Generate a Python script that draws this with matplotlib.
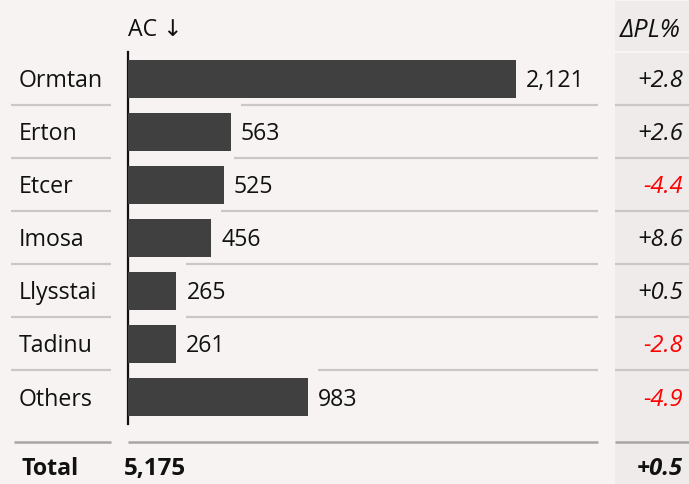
import matplotlib
matplotlib.use("Agg")
import matplotlib.pyplot as plt
from matplotlib.patches import Rectangle

categories = ["Ormtan", "Erton", "Etcer", "Imosa", "Llysstai", "Tadinu", "Others"]
ac_values = [2121, 563, 525, 456, 265, 261, 983]
delta_pl = [2.8, 2.6, -4.4, 8.6, 0.5, -2.8, -4.9]
total_label = "Total"
total_value = 5175
total_delta = 0.5

plt.rcParams['font.family'] = ['Open Sans', 'DejaVu Sans']

W, H = 689, 485
BG = "#f6f3f2"
COL_BG = "#eeebea"
BAR = "#404040"
SEP = "#cac7c6"
TOT = "#a8a6a5"
FS = 16.7

fig = plt.figure(figsize=(W / 100, H / 100), dpi=100, facecolor=BG)

# right column background
fig.patches.append(Rectangle((615 / W, 0), 1 - 615 / W, (H - 2) / H,
                             transform=fig.transFigure, facecolor=COL_BG,
                             edgecolor="none", zorder=-5))

ax_left, ax_right = 128, 598
ax_top, ax_bot = 53, 424.5
ax = fig.add_axes([ax_left / W, 1 - ax_bot / H, (ax_right - ax_left) / W, (ax_bot - ax_top) / H])
ax.set_zorder(2)
ax.set_facecolor("none")
px_per_unit = 388 / 2121
xmax = (ax_right - ax_left) / px_per_unit
ax.set_xlim(0, xmax)
n = len(categories)
ax.set_ylim(n - 0.5, -0.5)
for s in ["top", "right", "bottom"]:
    ax.spines[s].set_visible(False)
ax.spines["left"].set_linewidth(1.6)
ax.spines["left"].set_color("#111111")
ax.set_xticks([])
ax.set_yticks([])

ypos = list(range(n))
ax.barh(ypos, ac_values, height=0.715, color=BAR, zorder=3)

def fx(px):
    return (px - ax_left) / (ax_right - ax_left)

ytr = ax.get_yaxis_transform()
gap = 10 / px_per_unit
dy = 0.03
for i, (cat, v, d) in enumerate(zip(categories, ac_values, delta_pl)):
    ax.text(fx(19), i + dy, cat, transform=ytr, ha="left", va="center", fontsize=FS,
            color="#111111", clip_on=False)
    ax.text(v + gap, i + dy, f"{v:,}", ha="left", va="center", fontsize=FS,
            color="#111111", clip_on=False)
    ax.text(fx(683), i + dy, f"{d:+.1f}", transform=ytr, ha="right", va="center",
            fontsize=FS + 0.4, style="italic", color="#ff0000" if d < 0 else "#111111",
            clip_on=False)
    if i < n - 1:
        yl = i + 0.5
        ax.plot([fx(11), fx(111)], [yl, yl], transform=ytr, color=SEP, lw=1.6,
                clip_on=False, solid_capstyle="butt")
        nxt = ac_values[i + 1]
        ax.plot([nxt + gap, xmax], [yl, yl], color=SEP, lw=1.6, clip_on=False,
                solid_capstyle="butt")
        ax.plot([fx(615), fx(689)], [yl, yl], transform=ytr, color=SEP, lw=1.6,
                clip_on=False, solid_capstyle="butt")

# light line under the header in the right column
ax.plot([fx(615), fx(689)], [-0.5, -0.5], transform=ytr, color="#f8f6f5", lw=1.5,
        clip_on=False, solid_capstyle="butt")

row_px = 53.1
y_tot_line = n - 1 + (443 - 397.6) / row_px
for a, b in [(fx(14), fx(111)), (0, 1), (fx(615), fx(689))]:
    ax.plot([a, b], [y_tot_line, y_tot_line], transform=ytr, color=TOT, lw=1.8,
            clip_on=False, solid_capstyle="butt")

y_tot = n - 1 + (467 - 397.6) / row_px + dy
ax.text(fx(21), y_tot, total_label, transform=ytr, ha="left", va="center",
        fontsize=FS, fontweight="bold", color="#111111", clip_on=False)
ax.text(fx(124), y_tot, f"{total_value:,}", transform=ytr, ha="left", va="center",
        fontsize=FS + 0.8, fontweight="bold", color="#111111", clip_on=False)
ax.text(fx(683), y_tot, f"{total_delta:+.1f}", transform=ytr, ha="right", va="center",
        fontsize=FS + 0.4, fontweight="bold", style="italic", color="#111111", clip_on=False)

y_head = (28 - 79) / row_px + dy
ax.text(0, y_head, "AC \u2193", transform=ytr, ha="left", va="center", fontsize=FS,
        color="#111111", clip_on=False)
ax.text(fx(681), y_head, "\u0394PL%", transform=ytr, ha="right", va="center",
        fontsize=FS + 1.6, style="italic", color="#111111", clip_on=False)

fig.savefig("out.png", dpi=100, facecolor=BG)
